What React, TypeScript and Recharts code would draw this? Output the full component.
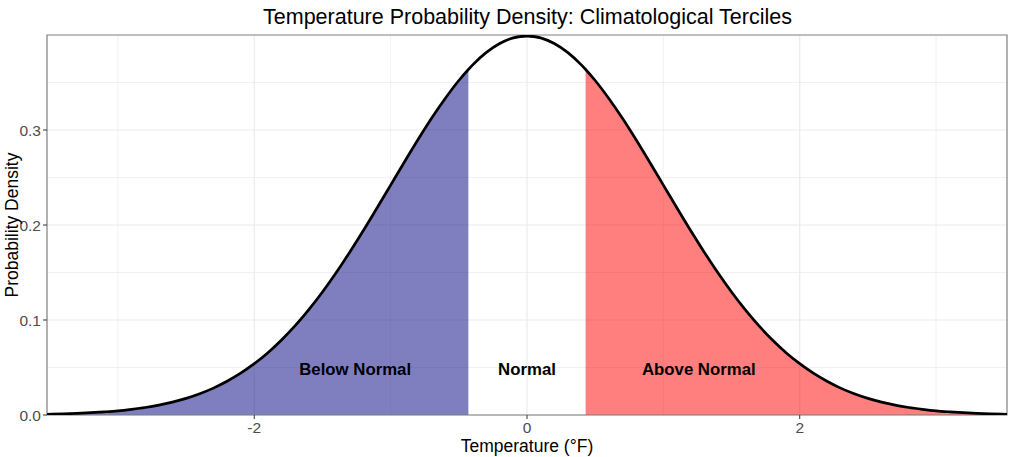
import { ComposedChart, Area, Line, XAxis, YAxis, CartesianGrid, ReferenceLine, ReferenceArea, Label } from 'recharts';

// temperature anomaly (standard units) and the density
const temps = [
  -3.52, -3.4, -3.3, -3.2, -3.1, -3.0, -2.9, -2.8, -2.7, -2.6, -2.5, -2.4, -2.3, -2.2, -2.1, -2.0,
  -1.9, -1.8, -1.7, -1.6, -1.5, -1.4, -1.3, -1.2, -1.1, -1.0, -0.9, -0.8, -0.7, -0.6, -0.5, -0.43,
  -0.4, -0.3, -0.2, -0.1, 0.0, 0.1, 0.2, 0.3, 0.4, 0.43, 0.5, 0.6, 0.7, 0.8, 0.9, 1.0,
  1.1, 1.2, 1.3, 1.4, 1.5, 1.6, 1.7, 1.8, 1.9, 2.0, 2.1, 2.2, 2.3, 2.4, 2.5, 2.6,
  2.7, 2.8, 2.9, 3.0, 3.1, 3.2, 3.3, 3.4, 3.52,
];
const density = [
  0.0008, 0.0012, 0.0017, 0.0024, 0.0033, 0.0044, 0.006, 0.0079, 0.0104, 0.0136, 0.0175, 0.0224, 0.0283, 0.0355, 0.044, 0.054,
  0.0656, 0.079, 0.094, 0.1109, 0.1295, 0.1497, 0.1714, 0.1942, 0.2179, 0.242, 0.2661, 0.2897, 0.3123, 0.3332, 0.3521, 0.3637,
  0.3683, 0.3814, 0.391, 0.397, 0.3989, 0.397, 0.391, 0.3814, 0.3683, 0.3637, 0.3521, 0.3332, 0.3123, 0.2897, 0.2661, 0.242,
  0.2179, 0.1942, 0.1714, 0.1497, 0.1295, 0.1109, 0.094, 0.079, 0.0656, 0.054, 0.044, 0.0355, 0.0283, 0.0224, 0.0175, 0.0136,
  0.0104, 0.0079, 0.006, 0.0044, 0.0033, 0.0024, 0.0017, 0.0012, 0.0008,
];
const lowerTercile = -0.43;
const upperTercile = 0.43;

const xTicks = [-2, 0, 2];
const yTicks = [0, 0.1, 0.2, 0.3];
const xMinor = [-3, -1, 1, 3];
const yMinor = [0.05, 0.15, 0.25, 0.35];

const regionLabels = [
  { x: -1.26, y: 0.048, text: 'Below Normal' },
  { x: 0, y: 0.048, text: 'Normal' },
  { x: 1.26, y: 0.048, text: 'Above Normal' },
];

const data = temps.map((t, i) => ({
  t,
  d: density[i],
  below: t <= lowerTercile ? density[i] : null,
  above: t >= upperTercile ? density[i] : null,
}));

const font = '"Liberation Sans", Arial, sans-serif';
const gridColor = '#ebebeb';

export default function App() {
  return (
    <div style={{ position: 'absolute', left: 0, top: 0, width: 1024, height: 457, background: '#fff', fontFamily: font }}>
      <div style={{ position: 'absolute', top: 4, width: 1055, textAlign: 'center', fontSize: 21.5, color: '#000', lineHeight: '26px' }}>
        Temperature Probability Density: Climatological Terciles
      </div>
      <ComposedChart width={1024} height={457} data={data} margin={{ top: 35, right: 17, bottom: 0, left: 0 }}>
        <CartesianGrid stroke={gridColor} strokeWidth={0.7} verticalValues={xMinor} horizontalValues={yMinor} />
        <CartesianGrid stroke={gridColor} strokeWidth={1.2} verticalValues={xTicks} horizontalValues={yTicks} />
        <XAxis
          type="number"
          dataKey="t"
          domain={[-3.52, 3.52]}
          ticks={xTicks}
          allowDataOverflow
          height={42}
          tick={{ fill: '#4d4d4d', fontSize: 15.5, fontFamily: font }}
          tickLine={{ stroke: '#333' }}
          tickSize={4}
          tickMargin={3}
          axisLine={false}
        >
          <Label value="Temperature (°F)" position="insideBottom" offset={5} style={{ fill: '#000', fontSize: 17.5, fontFamily: font }} />
        </XAxis>
        <YAxis
          type="number"
          domain={[0, 0.4]}
          ticks={yTicks}
          allowDataOverflow
          width={47}
          tickFormatter={(v: number) => v.toFixed(1)}
          tick={{ fill: '#4d4d4d', fontSize: 15.5, fontFamily: font }}
          tickLine={{ stroke: '#333' }}
          tickSize={4}
          tickMargin={2}
          axisLine={false}
        >
          <Label value="Probability Density" angle={-90} position="insideLeft" offset={12} style={{ fill: '#000', fontSize: 17.5, fontFamily: font, textAnchor: 'middle' }} />
        </YAxis>
        <Area type="monotone" dataKey="below" stroke="none" fill="#000080" fillOpacity={0.5} isAnimationActive={false} connectNulls={false} />
        <Area type="monotone" dataKey="above" stroke="none" fill="#ff0000" fillOpacity={0.5} isAnimationActive={false} connectNulls={false} />
        <Line type="monotone" dataKey="d" stroke="#000" strokeWidth={2.7} dot={false} isAnimationActive={false} />
        {regionLabels.map((r) => (
          <ReferenceLine key={r.text} segment={[{ x: r.x, y: r.y }, { x: r.x, y: r.y }]} stroke="none">
            <Label value={r.text} position="center" style={{ fill: '#000', fontSize: 16.8, fontWeight: 'bold', fontFamily: font }} />
          </ReferenceLine>
        ))}
        <ReferenceArea x1={-3.52} x2={3.52} y1={0} y2={0.4} fill="none" stroke="#7f7f7f" strokeWidth={1.2} ifOverflow="visible" />
      </ComposedChart>
    </div>
  );
}
